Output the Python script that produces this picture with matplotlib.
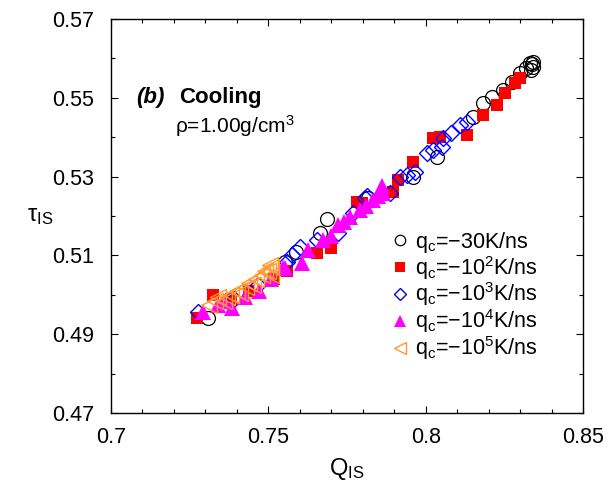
import matplotlib
matplotlib.use('Agg')
from matplotlib import pyplot as plt
from matplotlib.ticker import MultipleLocator

plt.rcParams['font.family'] = ['Liberation Sans', 'DejaVu Sans']
plt.rcParams['mathtext.fontset'] = 'custom'
plt.rcParams['mathtext.rm'] = 'Liberation Sans'
plt.rcParams['mathtext.it'] = 'Liberation Sans:italic'
plt.rcParams['mathtext.bf'] = 'Liberation Sans:bold'

# cooling rate -30 K/ns
x30 = [0.7308, 0.7553, 0.7588, 0.7664, 0.7686, 0.7817, 0.7960, 0.8036, 0.8150, 0.8182,
       0.8210, 0.8245, 0.8274, 0.8300, 0.8318, 0.8331, 0.8338, 0.8342, 0.8335, 0.8340]
y30 = [0.4941, 0.5083, 0.5109, 0.5157, 0.5192, 0.5245, 0.5299, 0.5350, 0.5451, 0.5487,
       0.5502, 0.5520, 0.5540, 0.5563, 0.5575, 0.5588, 0.5585, 0.5578, 0.5570, 0.5592]

# -10^2 K/ns
x2 = [0.7273, 0.7324, 0.7380, 0.7440, 0.7518, 0.7560, 0.7655, 0.7700, 0.7782, 0.7798,
      0.7896, 0.7912, 0.7960, 0.8023, 0.8045, 0.8131, 0.8182, 0.8227, 0.8252, 0.8284, 0.8300]
y2 = [0.4941, 0.4999, 0.4990, 0.5010, 0.5040, 0.5060, 0.5106, 0.5120, 0.5236, 0.5233,
      0.5261, 0.5291, 0.5337, 0.5398, 0.5400, 0.5406, 0.5456, 0.5482, 0.5512, 0.5538, 0.5550]

# -10^3 K/ns
x3 = [0.7277, 0.7390, 0.7467, 0.7560, 0.7575, 0.7600, 0.7655, 0.7721, 0.7770, 0.7807, 0.7813,
      0.7887, 0.7920, 0.7940, 0.7966, 0.8004, 0.8023, 0.8052, 0.8055, 0.8080, 0.8109, 0.8131]
y3 = [0.4956, 0.4990, 0.5025, 0.5083, 0.5100, 0.5121, 0.5139, 0.5157, 0.5208, 0.5246, 0.5250,
      0.5258, 0.5300, 0.5304, 0.5312, 0.5360, 0.5368, 0.5375, 0.5398, 0.5410, 0.5431, 0.5439]

# -10^4 K/ns
x4 = [0.7292, 0.7340, 0.7360, 0.7385, 0.7426, 0.7470, 0.7510, 0.7547, 0.7553, 0.7607, 0.7626,
      0.7674, 0.7700, 0.7721, 0.7740, 0.7760, 0.7791, 0.7810, 0.7833, 0.7850, 0.7864, 0.7861]
y4 = [0.4956, 0.4974, 0.4985, 0.4967, 0.4994, 0.5010, 0.5040, 0.5068, 0.5068, 0.5080, 0.5114,
      0.5139, 0.5150, 0.5177, 0.5185, 0.5197, 0.5215, 0.5225, 0.5241, 0.5250, 0.5258, 0.5275]

# -10^5 K/ns
x5 = [0.7310, 0.7330, 0.7340, 0.7360, 0.7370, 0.7380, 0.7400, 0.7410, 0.7430, 0.7440,
      0.7450, 0.7460, 0.7480, 0.7490, 0.7500, 0.7510, 0.7510, 0.7505]
y5 = [0.4975, 0.4985, 0.4995, 0.4985, 0.4995, 0.5000, 0.5010, 0.5005, 0.5020, 0.5030,
      0.5025, 0.5040, 0.5050, 0.5060, 0.5060, 0.5070, 0.5050, 0.5075]

xticks = [0.7, 0.75, 0.8, 0.85]
xticklabels = ['0.7', '0.75', '0.8', '0.85']
yticks = [0.47, 0.49, 0.51, 0.53, 0.55, 0.57]

fig = plt.figure(figsize=(6.1, 4.87), dpi=100)
ax = fig.add_axes([111/610, 1 - 413/487, 472/610, 394/487])

ax.plot(x30, y30, 'o', mfc='none', mec='black', ms=10, mew=0.9,
        label=r'$\mathrm{q_c}$=$-$30K/ns')
ax.plot(x2, y2, 's', color='#ff0000', ms=9, mew=0,
        label=r'$\mathrm{q_c}$=$-\mathrm{10^2}$K/ns')
ax.plot(x3, y3, 'D', mfc='none', mec='#0000ff', ms=8, mew=1.0,
        label=r'$\mathrm{q_c}$=$-\mathrm{10^3}$K/ns')
ax.plot(x4, y4, '^', color='#ff00ff', ms=11, mew=0,
        label=r'$\mathrm{q_c}$=$-\mathrm{10^4}$K/ns')
ax.plot(x5, y5, '<', mfc='none', mec='#ff9a30', ms=11, mew=1.0,
        label=r'$\mathrm{q_c}$=$-\mathrm{10^5}$K/ns')

ax.set_xlim(0.7, 0.85)
ax.set_ylim(0.47, 0.57)
ax.set_xticks(xticks)
ax.set_xticklabels(xticklabels)
ax.set_yticks(yticks)
ax.xaxis.set_minor_locator(MultipleLocator(0.01))
ax.yaxis.set_minor_locator(MultipleLocator(0.01))
ax.tick_params(which='both', direction='in', top=True, right=True, labelsize=15.5)
ax.tick_params(axis='x', pad=10)
ax.tick_params(axis='y', pad=12)
ax.tick_params(which='major', length=5, width=0.8)
ax.tick_params(which='minor', length=3, width=0.8)
for s in ax.spines.values():
    s.set_linewidth(1.0)

ax.set_xlabel(r'Q$_\mathrm{IS}$', fontsize=17, labelpad=6)
ax.set_ylabel(r'τ$_\mathrm{IS}$', fontsize=17, rotation=0, va='center', ha='center')
ax.yaxis.set_label_coords(-0.15, 0.50)

ax.text(0.053, 0.787, '(b)', transform=ax.transAxes, fontsize=16,
        fontweight='bold', fontstyle='italic', va='baseline')
ax.text(0.144, 0.787, 'Cooling', transform=ax.transAxes, fontsize=16,
        fontweight='bold', va='baseline')
ax.text(0.136, 0.711, r'ρ=1.00g/cm$^\mathrm{3}$', transform=ax.transAxes, fontsize=15,
        va='baseline')

ax.legend(loc='upper left', bbox_to_anchor=(0.593, 0.465), frameon=False, fontsize=15.5,
          markerscale=0.75, handlelength=0.8, handletextpad=0.3, labelspacing=-0.05,
          borderaxespad=0, borderpad=0)

fig.savefig('out.png', dpi=100)
